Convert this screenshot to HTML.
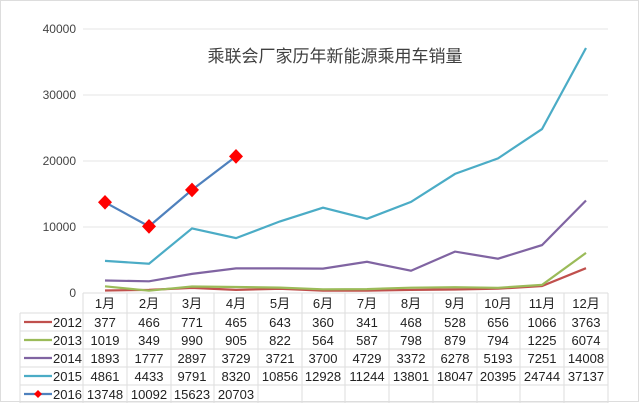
<!DOCTYPE html><html><head><meta charset="utf-8"><style>body{margin:0;background:#fff}svg text{font-family:"Liberation Sans","Noto Sans CJK SC",sans-serif}</style></head><body>
<svg width="640" height="403" xmlns="http://www.w3.org/2000/svg">
<rect width="640" height="403" fill="#fff"/>
<rect x="0.5" y="0.5" width="638" height="401" fill="none" stroke="#ddd"/>
<g stroke="#e6e6e6" stroke-width="1"><line x1="83" y1="29" x2="608" y2="29"/><line x1="83" y1="95" x2="608" y2="95"/><line x1="83" y1="161" x2="608" y2="161"/><line x1="83" y1="227" x2="608" y2="227"/></g>
<g fill="#444" font-size="12" text-anchor="end">
<text x="76" y="297">0</text><text x="76" y="231">10000</text><text x="76" y="165">20000</text><text x="76" y="99">30000</text><text x="76" y="33">40000</text></g>
<text x="335" y="62" font-size="17" fill="#404040" text-anchor="middle" font-family="Noto Sans CJK SC">乘联会厂家历年新能源乘用车销量</text>
<g stroke="#ddd" stroke-width="1" fill="none">
<line x1="83" y1="293" x2="608" y2="293"/>
<line x1="20" y1="313" x2="608" y2="313"/><line x1="20" y1="331" x2="608" y2="331"/><line x1="20" y1="349" x2="608" y2="349"/><line x1="20" y1="367" x2="608" y2="367"/><line x1="20" y1="385" x2="608" y2="385"/><line x1="20" y1="402" x2="608" y2="402"/>
<line x1="20" y1="313" x2="20" y2="403"/>
<line x1="83" y1="293" x2="83" y2="403"/><line x1="127" y1="293" x2="127" y2="403"/><line x1="171" y1="293" x2="171" y2="403"/><line x1="214" y1="293" x2="214" y2="403"/><line x1="258" y1="293" x2="258" y2="403"/><line x1="302" y1="293" x2="302" y2="403"/><line x1="345" y1="293" x2="345" y2="403"/><line x1="389" y1="293" x2="389" y2="403"/><line x1="433" y1="293" x2="433" y2="403"/><line x1="477" y1="293" x2="477" y2="403"/><line x1="520" y1="293" x2="520" y2="403"/><line x1="564" y1="293" x2="564" y2="403"/><line x1="608" y1="293" x2="608" y2="403"/>
</g>
<g fill="none" stroke-width="2.2">
<polyline stroke="#c0504d" points="105,290.5 149,289.9 192,287.9 236,289.9 280,288.8 323,290.6 367,290.7 411,289.9 455,289.5 498,288.7 542,286 586,268.2"/>
<polyline stroke="#9bbb59" points="105,286.3 149,290.7 192,286.5 236,287 280,287.6 323,289.3 367,289.1 411,287.7 455,287.2 498,287.8 542,284.9 586,252.9"/>
<polyline stroke="#8064a2" points="105,280.5 149,281.3 192,273.9 236,268.4 280,268.4 323,268.6 367,261.8 411,270.7 455,251.6 498,258.7 542,245.1 586,200.5"/>
<polyline stroke="#4bacc6" points="105,260.9 149,263.7 192,228.4 236,238.1 280,221.4 323,207.7 367,218.8 411,201.9 455,173.9 498,158.4 542,129.1 586,48"/>
<polyline stroke="#4f81bd" points="105,202.3 149,226.4 192,189.9 236,156.4"/>
</g>
<g fill="#f00">
<polygon points="105,195 112,202.3 105,209.6 98,202.3"/><polygon points="149,219 156,226.4 149,233.7 142,226.4"/><polygon points="192,182.6 199,189.9 192,197.2 185,189.9"/><polygon points="236,149 243,156.4 236,163.7 229,156.4"/></g>
<g font-size="13" fill="#222" text-anchor="middle">
<text x="105" y="308">1月</text><text x="149" y="308">2月</text><text x="192" y="308">3月</text><text x="236" y="308">4月</text><text x="280" y="308">5月</text><text x="323" y="308">6月</text><text x="367" y="308">7月</text><text x="411" y="308">8月</text><text x="455" y="308">9月</text><text x="498" y="308">10月</text><text x="542" y="308">11月</text><text x="586" y="308">12月</text>
<text x="105" y="327">377</text><text x="149" y="327">466</text><text x="192" y="327">771</text><text x="236" y="327">465</text><text x="280" y="327">643</text><text x="323" y="327">360</text><text x="367" y="327">341</text><text x="411" y="327">468</text><text x="455" y="327">528</text><text x="498" y="327">656</text><text x="542" y="327">1066</text><text x="586" y="327">3763</text>
<text x="105" y="345">1019</text><text x="149" y="345">349</text><text x="192" y="345">990</text><text x="236" y="345">905</text><text x="280" y="345">822</text><text x="323" y="345">564</text><text x="367" y="345">587</text><text x="411" y="345">798</text><text x="455" y="345">879</text><text x="498" y="345">794</text><text x="542" y="345">1225</text><text x="586" y="345">6074</text>
<text x="105" y="363">1893</text><text x="149" y="363">1777</text><text x="192" y="363">2897</text><text x="236" y="363">3729</text><text x="280" y="363">3721</text><text x="323" y="363">3700</text><text x="367" y="363">4729</text><text x="411" y="363">3372</text><text x="455" y="363">6278</text><text x="498" y="363">5193</text><text x="542" y="363">7251</text><text x="586" y="363">14008</text>
<text x="105" y="381">4861</text><text x="149" y="381">4433</text><text x="192" y="381">9791</text><text x="236" y="381">8320</text><text x="280" y="381">10856</text><text x="323" y="381">12928</text><text x="367" y="381">11244</text><text x="411" y="381">13801</text><text x="455" y="381">18047</text><text x="498" y="381">20395</text><text x="542" y="381">24744</text><text x="586" y="381">37137</text>
<text x="105" y="399">13748</text><text x="149" y="399">10092</text><text x="192" y="399">15623</text><text x="236" y="399">20703</text>
</g>
<g font-size="13" fill="#222">
<text x="53" y="327">2012</text><text x="53" y="345">2013</text><text x="53" y="363">2014</text><text x="53" y="381">2015</text><text x="53" y="399">2016</text></g>
<g stroke-width="2.2"><line x1="24" y1="322" x2="52" y2="322" stroke="#c0504d"/><line x1="24" y1="340" x2="52" y2="340" stroke="#9bbb59"/><line x1="24" y1="358" x2="52" y2="358" stroke="#8064a2"/><line x1="24" y1="376" x2="52" y2="376" stroke="#4bacc6"/><line x1="24" y1="394" x2="52" y2="394" stroke="#4f81bd"/></g>
<polygon points="38,390 42,394 38,398 34,394" fill="#f00"/>
</svg></body></html>
